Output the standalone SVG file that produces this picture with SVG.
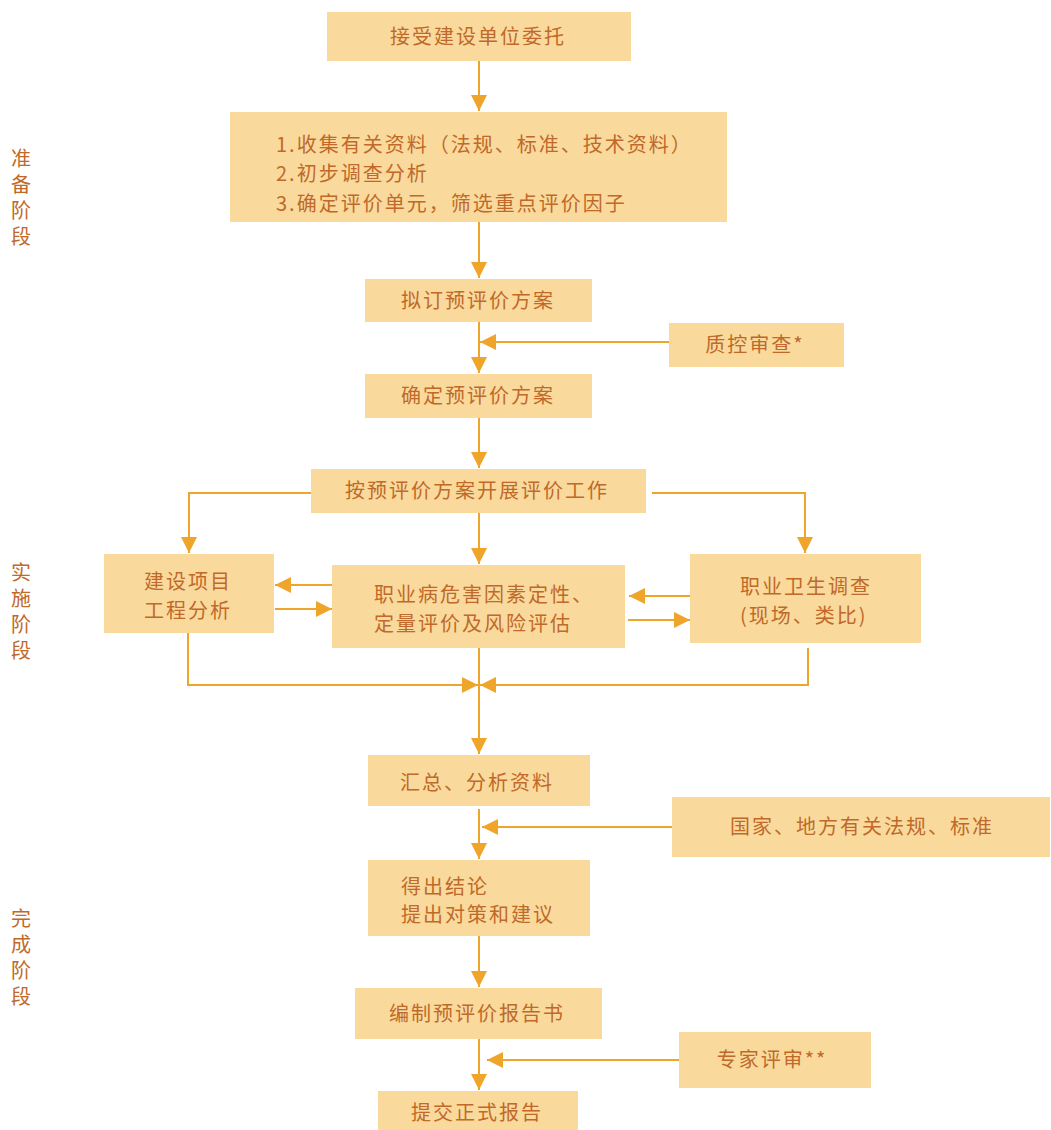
<svg xmlns="http://www.w3.org/2000/svg" width="1051" height="1130" viewBox="0 0 1051 1130">
<defs>
<marker id="ah" markerUnits="userSpaceOnUse" markerWidth="16" markerHeight="16" viewBox="0 0 16 16" refX="16" refY="8" orient="auto">
<path d="M0,0 L16,8 L0,16 Z" fill="#eea52a"/>
</marker>
<style>
.b{fill:#f9da9c}
.t{font-family:"Noto Sans CJK SC","Noto Sans",sans-serif;font-size:20px;fill:#c0692a;letter-spacing:2px}
.v{writing-mode:vertical-rl;letter-spacing:6px}
.c{stroke:#eea52a;stroke-width:2;fill:none}
.m{text-anchor:middle}
</style>
</defs>
<rect width="1051" height="1130" fill="#ffffff"/>
<g id="stage-labels">
<text class="t v" x="21" y="148">准备阶段</text>
<text class="t v" x="21" y="562">实施阶段</text>
<text class="t v" x="21" y="908">完成阶段</text>
</g>
<g id="connectors">
<line class="c" x1="479" y1="61" x2="479" y2="111" marker-end="url(#ah)"/>
<line class="c" x1="479" y1="222" x2="479" y2="278" marker-end="url(#ah)"/>
<line class="c" x1="479" y1="322" x2="479" y2="373" marker-end="url(#ah)"/>
<line class="c" x1="669" y1="342" x2="480" y2="342" marker-end="url(#ah)"/>
<line class="c" x1="479" y1="418" x2="479" y2="468" marker-end="url(#ah)"/>
<polyline class="c" points="311,493 189,493 189,553" marker-end="url(#ah)"/>
<polyline class="c" points="652,493 805,493 805,553" marker-end="url(#ah)"/>
<line class="c" x1="479" y1="513" x2="479" y2="564" marker-end="url(#ah)"/>
<line class="c" x1="332" y1="585" x2="275" y2="585" marker-end="url(#ah)"/>
<line class="c" x1="275" y1="609" x2="332" y2="609" marker-end="url(#ah)"/>
<line class="c" x1="690" y1="596" x2="629" y2="596" marker-end="url(#ah)"/>
<line class="c" x1="628" y1="620" x2="690" y2="620" marker-end="url(#ah)"/>
<polyline class="c" points="188,633 188,685 478,685" marker-end="url(#ah)"/>
<polyline class="c" points="808,648 808,685 480,685" marker-end="url(#ah)"/>
<line class="c" x1="479" y1="648" x2="479" y2="754" marker-end="url(#ah)"/>
<line class="c" x1="479" y1="809" x2="479" y2="859" marker-end="url(#ah)"/>
<line class="c" x1="672" y1="827" x2="482" y2="827" marker-end="url(#ah)"/>
<line class="c" x1="479" y1="936" x2="479" y2="987" marker-end="url(#ah)"/>
<line class="c" x1="479" y1="1039" x2="479" y2="1090" marker-end="url(#ah)"/>
<line class="c" x1="679" y1="1060" x2="487" y2="1060" marker-end="url(#ah)"/>
</g>
<g id="n1"><rect class="b" x="327" y="12" width="304" height="49"/><text class="t m" x="478" y="44">接受建设单位委托</text></g>
<g id="n2"><rect class="b" x="230" y="112" width="497" height="110"/>
<text class="t" x="276" y="152">1.收集有关资料（法规、标准、技术资料）</text>
<text class="t" x="276" y="181">2.初步调查分析</text>
<text class="t" x="276" y="211">3.确定评价单元，筛选重点评价因子</text></g>
<g id="n3"><rect class="b" x="365" y="279" width="227" height="43"/><text class="t m" x="478" y="308">拟订预评价方案</text></g>
<g id="n4"><rect class="b" x="669" y="323" width="175" height="44"/><text class="t m" x="755" y="352">质控审查*</text></g>
<g id="n5"><rect class="b" x="365" y="374" width="227" height="44"/><text class="t m" x="478" y="403">确定预评价方案</text></g>
<g id="n6"><rect class="b" x="311" y="469" width="335" height="44"/><text class="t m" x="477" y="498">按预评价方案开展评价工作</text></g>
<g id="n7"><rect class="b" x="104" y="554" width="170" height="79"/>
<text class="t m" x="188" y="589">建设项目</text>
<text class="t m" x="188" y="618">工程分析</text></g>
<g id="n8"><rect class="b" x="332" y="565" width="293" height="83"/>
<text class="t" x="374" y="602">职业病危害因素定性、</text>
<text class="t" x="374" y="631">定量评价及风险评估</text></g>
<g id="n9"><rect class="b" x="690" y="554" width="231" height="89"/>
<text class="t" x="740" y="594">职业卫生调查</text>
<text class="t" x="740" y="623">(现场、类比)</text></g>
<g id="n10"><rect class="b" x="368" y="755" width="222" height="51"/><text class="t m" x="477" y="790">汇总、分析资料</text></g>
<g id="n11"><rect class="b" x="672" y="797" width="378" height="60"/><text class="t m" x="862" y="834">国家、地方有关法规、标准</text></g>
<g id="n12"><rect class="b" x="368" y="860" width="222" height="76"/>
<text class="t" x="401" y="894">得出结论</text>
<text class="t" x="401" y="922">提出对策和建议</text></g>
<g id="n13"><rect class="b" x="355" y="988" width="247" height="51"/><text class="t m" x="477" y="1021">编制预评价报告书</text></g>
<g id="n14"><rect class="b" x="679" y="1032" width="192" height="56"/><text class="t m" x="772" y="1067">专家评审**</text></g>
<g id="n15"><rect class="b" x="378" y="1091" width="200" height="39"/><text class="t m" x="477" y="1120">提交正式报告</text></g>
</svg>
